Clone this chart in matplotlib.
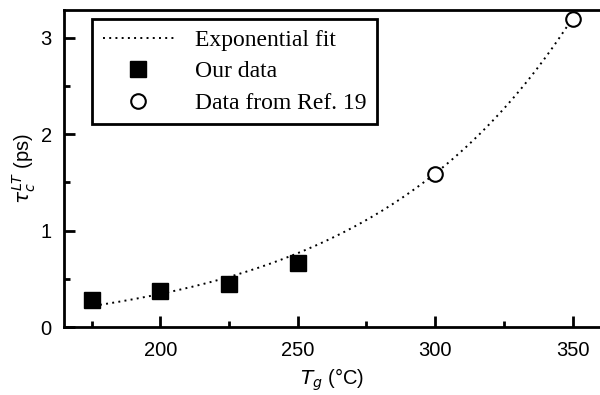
import numpy as np
import matplotlib
matplotlib.use("Agg")
import matplotlib.pyplot as plt
from matplotlib.ticker import MultipleLocator

our_T = [175, 200, 225, 250]
our_tau = [0.28, 0.37, 0.45, 0.66]
ref_T = [300, 350]
ref_tau = [1.59, 3.20]
# exponential fit parameters: tau = y0 + A*exp(T/t)
fit_y0 = -0.10
fit_A = 0.0305
fit_t = 74.7
fit_range = [178, 350]

plt.rcParams['font.family'] = ['Liberation Sans', 'DejaVu Sans']
fig = plt.figure(figsize=(6.0, 3.95), dpi=100)
ax = fig.add_axes([0.107, 0.172, 0.893, 0.803])

Tf = np.linspace(fit_range[0], fit_range[1], 200)
ax.plot(Tf, fit_y0 + fit_A * np.exp(Tf / fit_t), ls=(0, (1, 2.2)), color='black', lw=1.4,
        label='Exponential fit')
ax.plot(our_T, our_tau, 's', color='black', ms=12, label='Our data')
ax.plot(ref_T, ref_tau, 'o', mfc='white', mec='black', mew=1.5, ms=10.5, label='Data from Ref. 19')

ax.set_xlim(165, 360)
ax.set_ylim(0, 3.29)
ax.xaxis.set_major_locator(MultipleLocator(50))
ax.xaxis.set_minor_locator(MultipleLocator(25))
ax.yaxis.set_major_locator(MultipleLocator(1))
ax.yaxis.set_minor_locator(MultipleLocator(0.5))
ax.tick_params(which='both', direction='in', labelsize=14.5, width=2, top=False, right=False)
ax.tick_params(which='major', length=8)
ax.tick_params(which='minor', length=4)
ax.tick_params(axis='x', pad=10)
ax.tick_params(axis='y', pad=9)
for s in ax.spines.values():
    s.set_linewidth(2)
ax.spines['right'].set_visible(False)

ax.set_xlabel(r'$T_g$ (°C)', fontsize=14.5, labelpad=5)
ax.set_ylabel(r'$\tau_c^{LT}$ (ps)', fontsize=14.5, labelpad=2)

leg = ax.legend(loc='upper left', bbox_to_anchor=(0.052, 0.972), frameon=True, fancybox=False,
                edgecolor='black', prop={'family': 'Liberation Serif', 'size': 17},
                handlelength=3.0, borderpad=0.45, labelspacing=0.42, handletextpad=0.9,
                borderaxespad=0)
leg.get_frame().set_linewidth(2)
leg.get_frame().set_alpha(1)

fig.savefig('out.png', dpi=100)
